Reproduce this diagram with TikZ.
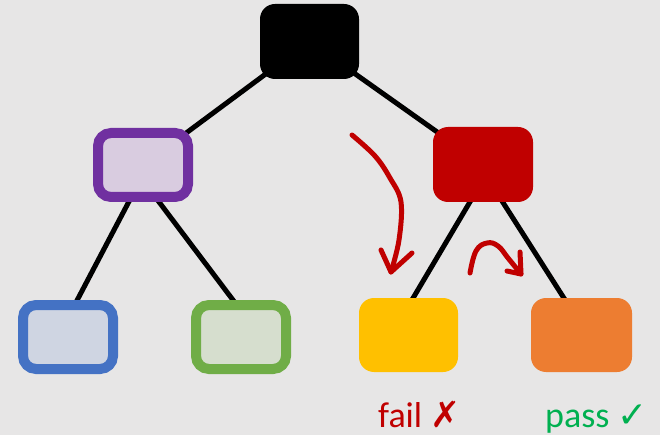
\documentclass[tikz,border=0pt]{standalone}
\usepackage{fontspec}
\setmainfont{Carlito}
\newfontfamily\symfont{DejaVu Sans}
\usetikzlibrary{calc,backgrounds}
\definecolor{bg}{HTML}{E7E6E6}
\definecolor{dred}{HTML}{C00000}
\definecolor{okgreen}{HTML}{00B050}
\definecolor{purp}{HTML}{7030A0}
\definecolor{purpfill}{HTML}{D9CCE0}
\definecolor{bluebd}{HTML}{4472C4}
\definecolor{bluefill}{HTML}{CFD5E2}
\definecolor{greenbd}{HTML}{70AD47}
\definecolor{greenfill}{HTML}{D6DECE}
\definecolor{yel}{HTML}{FFC000}
\definecolor{ora}{HTML}{ED7D31}
\tikzset{
  solidbox/.style={rectangle, rounded corners=15pt, inner sep=0pt, draw=none,
    minimum width=100pt, minimum height=75pt},
  ringbox/.style={rectangle, rounded corners=13pt, inner sep=0pt, line width=10pt,
    minimum width=90pt, minimum height=64pt},
  edge/.style={line width=5pt, black},
  scribble/.style={line width=5pt, dred, line cap=round, line join=round},
  lbl/.style={anchor=base west, inner sep=0pt, font=\fontsize{36}{42}\selectfont}
}
\begin{document}
\begin{tikzpicture}[x=1pt,y=-1pt]
\useasboundingbox (0,0) rectangle (660,435);

\node[solidbox, fill=black, minimum width=99pt] (root) at (309.5,41.5) {};
\node[ringbox, draw=purp, fill=purpfill] (purple) at (143,165) {};
\node[solidbox, fill=dred] (red) at (483,164.5) {};
\node[ringbox, draw=bluebd, fill=bluefill] (blue) at (68,337) {};
\node[ringbox, draw=greenbd, fill=greenfill] (green) at (241,337) {};
\node[solidbox, fill=yel, minimum width=99pt, minimum height=74pt] (yellow) at (408.5,335) {};
\node[solidbox, fill=ora, minimum width=101pt, minimum height=74pt] (orange) at (581.5,335) {};

\begin{scope}[on background layer]
\fill[bg] (0,0) rectangle (660,435);
\draw[edge] (root.center) -- (purple.center);
\draw[edge] (root.center) -- (red.center);
\draw[edge] ($(purple.center)+(-8,25)$) -- ($(blue.center)+(4,-27)$);
\draw[edge] ($(purple.center)+(7,25)$) -- ($(green.center)+(-0.5,-27)$);
\draw[edge] ($(red.center)+(-6,25.5)$) -- ($(yellow.center)+(-2.5,-25)$);
\draw[edge] ($(red.center)+(12,25.5)$) -- ($(orange.center)+(-10,-25)$);
\end{scope}

% hand-drawn red arrows
\draw[scribble] plot[smooth, tension=0.6] coordinates {(352,135) (375,156) (390,178) (401,202) (399,240) (391,272)};
\draw[scribble] (381,250) -- (391,272) -- (412,253);
\draw[scribble] plot[smooth, tension=0.7] coordinates {(470,273) (476,251) (487,243) (498,246) (508,258) (521,274)};
\draw[scribble] (520,252) -- (521,274) -- (507,271);

\node[lbl, text=dred] (fail) at (378,427) {fail {\symfont ✗}};
\node[lbl, text=okgreen] (pass) at (545,427) {pass {\symfont ✓}};
\end{tikzpicture}
\end{document}
